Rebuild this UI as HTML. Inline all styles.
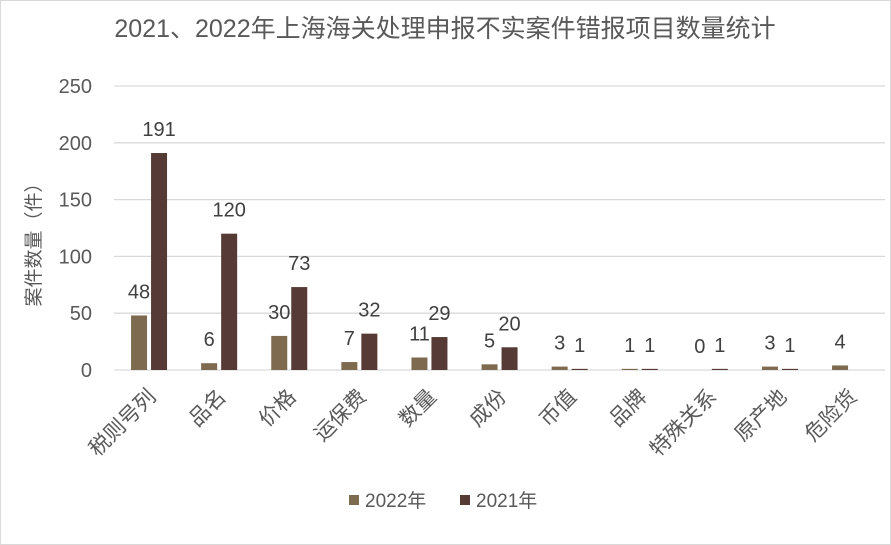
<!DOCTYPE html>
<html><head><meta charset="utf-8"><style>
body{margin:0;background:#fff}
svg{display:block;font-family:"Liberation Sans","Noto Sans CJK SC",sans-serif}
</style></head><body>
<svg id="c" width="891" height="545" viewBox="0 0 891 545">
<rect x="0.5" y="0.5" width="890" height="544" fill="#fff" stroke="#d9d9d9"/>
<text x="445" y="37" text-anchor="middle" font-size="25" fill="#595959">2021、2022年上海海关处理申报不实案件错报项目数量统计</text>
<text transform="translate(40,240) rotate(-90)" text-anchor="middle" font-size="19" fill="#595959">案件数量（件）</text>
<g id="grid"></g><g id="bars"></g>
<g>
<rect x="349" y="495" width="10" height="10" fill="#7e6a4f"/>
<text x="365" y="507" font-size="19" fill="#595959">2022年</text>
<rect x="460" y="495" width="10" height="10" fill="#553a36"/>
<text x="476" y="507" font-size="19" fill="#595959">2021年</text>
</g>
</svg>
<script>
const categories=["税则号列","品名","价格","运保费","数量","成份","币值","品牌","特殊关系","原产地","危险货"];
const values2022=[48,6,30,7,11,5,3,1,0,3,4];
const values2021=[191,120,73,32,29,20,1,1,1,1,null];
const yTicks=[0,50,100,150,200,250];
const NS="http://www.w3.org/2000/svg";
const x0=114,step=70.1,yZero=370,yTop=86,yMax=250;
const y=v=>yZero-(v/yMax)*(yZero-yTop);
const cx=i=>x0+step*(i+0.5);
function mk(t,a,p){const e=document.createElementNS(NS,t);for(const k in a)e.setAttribute(k,a[k]);p.appendChild(e);return e;}
const g=document.getElementById('grid'),b=document.getElementById('bars');
yTicks.forEach(t=>{
 const l=mk('line',{x1:x0,x2:885,y1:y(t),y2:y(t),stroke:'#d9d9d9','stroke-width':1.3},g);
 
 
 const tx=mk('text',{x:92,y:y(t)+7,'text-anchor':'end','font-size':20,fill:'#595959'},g);
 tx.textContent=t;
 
 
});
categories.forEach((c,i)=>{
 const c0=cx(i);
 [[values2022,'#7e6a4f',-18,'2022'],[values2021,'#553a36',2,'2021']].forEach(([arr,col,off,s])=>{
  const v=arr[i]; if(v==null)return;
  const r=mk('rect',{x:c0+off,y:y(v),width:16,height:yZero-y(v),fill:col},b);
  
  
  const t=mk('text',{x:c0+off+8,y:y(v)-17,'text-anchor':'middle','font-size':20,fill:'#404040'},b);
  t.textContent=v;
  
  
 });
 const lb=mk('text',{transform:`translate(${c0+8},${yZero+28}) rotate(-45)`,'text-anchor':'end','font-size':21,fill:'#595959'},b);
 lb.textContent=c;
 
 
});
</script>
</body></html>
